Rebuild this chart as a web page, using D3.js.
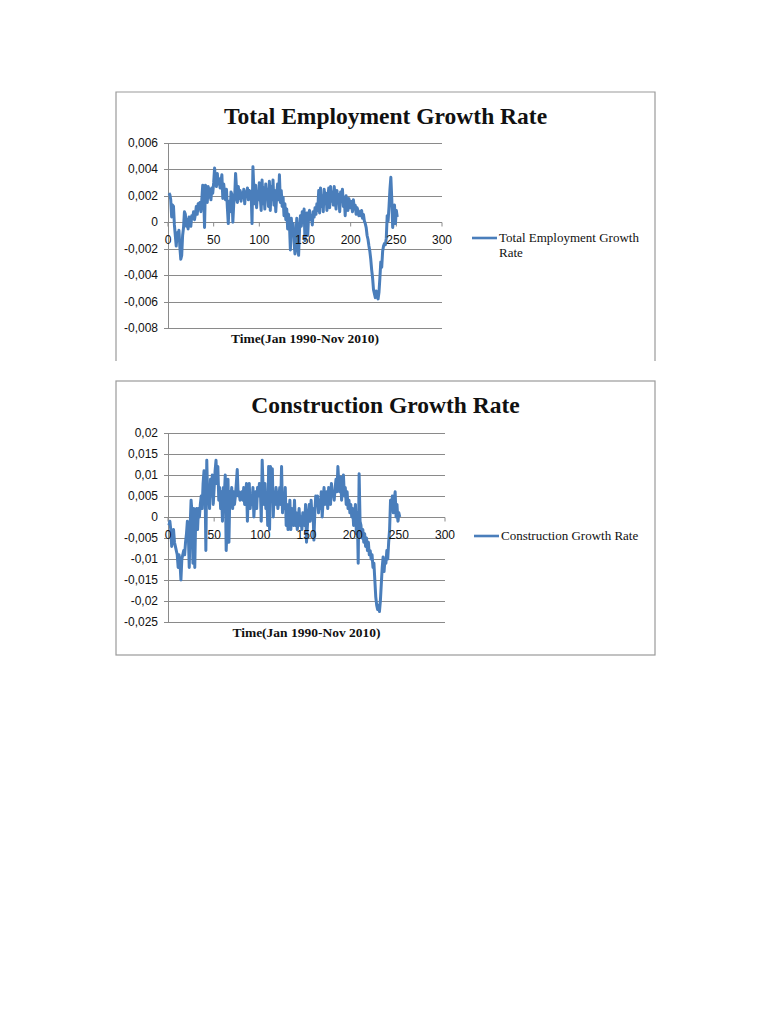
<!DOCTYPE html>
<html>
<head>
<meta charset="utf-8">
<script src="https://cdn.jsdelivr.net/npm/d3@7"></script>
<style>
  body { margin: 0; background: #fff; }
</style>
</head>
<body>
<div id="chart"></div>
<script>
// monthly growth rates, Jan 1990 - Nov 2010
const employment = [
  0.0022, 0.0021, 0.0017, 0.0004, 0.0013, 0.0012, -0.0002, -0.0010, -0.0018, -0.0008,
  -0.0013, -0.0006, -0.0019, -0.0028, -0.0025, -0.0010, -0.0004, 0.0008, 0.0006, -0.0003,
  0.0002, -0.0005, 0.0004, 0.0001, -0.0003, 0.0005, 0.0003, 0.0008, 0.0002, 0.0006,
  0.0012, 0.0006, 0.0014, 0.0010, 0.0015, 0.0008, 0.0017, 0.0028, 0.0022, -0.0004,
  0.0028, 0.0024, 0.0015, 0.0027, 0.0019, 0.0025, 0.0017, 0.0026, 0.0022, 0.0030,
  0.0041, 0.0032, 0.0027, 0.0037, 0.0029, 0.0033, 0.0026, 0.0031, 0.0036, 0.0018,
  0.0029, 0.0022, 0.0017, 0.0025, 0.0011, -0.0001, 0.0016, 0.0008, 0.0023, 0.0021,
  0.0000, 0.0014, 0.0019, 0.0037, 0.0026, 0.0015, 0.0027, 0.0018, 0.0024, 0.0016,
  0.0022, 0.0019, 0.0025, 0.0014, 0.0023, 0.0021, 0.0026, 0.0017, 0.0024, 0.0020,
  0.0023, -0.0001, 0.0042, 0.0025, 0.0014, 0.0028, 0.0011, 0.0022, 0.0017, 0.0030,
  0.0019, 0.0009, 0.0032, 0.0014, 0.0026, 0.0010, 0.0029, 0.0018, 0.0025, 0.0012,
  0.0031, 0.0009, 0.0027, 0.0017, 0.0032, 0.0013, 0.0024, 0.0008, 0.0020, 0.0029,
  0.0017, 0.0036, 0.0015, 0.0024, 0.0012, 0.0019, 0.0005, 0.0014, 0.0002, 0.0010,
  -0.0005, 0.0006, -0.0002, -0.0021, 0.0003, -0.0008, -0.0001, -0.0015, -0.0024, -0.0012,
  0.0003, -0.0020, -0.0025, -0.0006, 0.0005, -0.0003, 0.0008, 0.0001, 0.0010, -0.0014,
  0.0004, 0.0007, -0.0010, 0.0006, 0.0009, 0.0002, 0.0005, -0.0002, 0.0008, 0.0004,
  0.0011, 0.0006, 0.0014, 0.0009, 0.0024, 0.0007, 0.0026, 0.0012, 0.0020, 0.0008,
  0.0025, 0.0014, 0.0022, 0.0009, 0.0018, 0.0026, 0.0011, 0.0027, 0.0016, 0.0023,
  0.0013, 0.0027, 0.0019, 0.0010, 0.0024, 0.0015, 0.0021, 0.0008, 0.0023, 0.0017,
  0.0025, 0.0012, 0.0019, 0.0005, 0.0020, 0.0014, 0.0009, 0.0018, 0.0011, 0.0016,
  0.0014, 0.0008, 0.0017, 0.0010, 0.0013, 0.0006, 0.0011, 0.0009, 0.0005, 0.0008,
  0.0005, 0.0009, 0.0003, 0.0006, 0.0001, -0.0001, -0.0004, -0.0010, -0.0013, -0.0018,
  -0.0022, -0.0028, -0.0036, -0.0042, -0.0051, -0.0054, -0.0057, -0.0052, -0.0056, -0.0058,
  -0.0053, -0.0042, -0.0030, -0.0034, -0.0022, -0.0018, -0.0016, -0.0017, -0.0012, 0.0005,
  0.0001, 0.0012, 0.0025, 0.0034, 0.0018, -0.0004, 0.0003, 0.0013, -0.0001, 0.0009,
  0.0004
]

const construction = [
  -0.002, -0.001, -0.003, -0.007, -0.005, -0.003, -0.006, -0.007, -0.008, -0.009,
  -0.012, -0.009, -0.011, -0.015, -0.010, -0.009, -0.008, -0.009, -0.006, -0.004,
  -0.001, -0.004, -0.012, -0.002, 0.004, 0.001, -0.011, 0.002, -0.012, 0.000,
  0.002, -0.003, 0.002, 0.000, 0.003, 0.005, 0.002, 0.008, 0.011, 0.010,
  -0.008, 0.0135, 0.004, 0.006, 0.002, 0.009, 0.005, 0.010, 0.003, 0.007,
  0.011, 0.0135, 0.008, 0.012, 0.004, 0.007, 0.002, 0.006, -0.001, 0.007,
  0.005, 0.010, -0.008, -0.002, 0.009, -0.006, 0.006, 0.004, 0.007, 0.002,
  0.006, 0.003, 0.005, 0.008, 0.0113, 0.005, 0.006, 0.004, 0.005, 0.006,
  0.004, 0.007, 0.003, 0.005, 0.008, -0.001, 0.006, 0.008, 0.002, 0.005,
  0.003, 0.007, 0.000, 0.004, 0.006, 0.002, 0.007, 0.005, 0.008, 0.007,
  -0.001, 0.0135, 0.007, 0.003, 0.008, 0.002, 0.005, -0.002, 0.012, -0.003,
  0.012, 0.004, 0.0115, 0.000, 0.006, 0.003, 0.007, 0.005, 0.002, 0.004,
  0.007, 0.003, 0.012, 0.001, 0.005, 0.002, 0.007, -0.002, 0.003, -0.003,
  0.001, 0.004, -0.003, 0.002, 0.000, -0.002, 0.004, -0.002, 0.001, -0.003,
  -0.001, 0.002, -0.002, 0.000, -0.003, 0.001, -0.001, -0.002, 0.003, -0.006,
  -0.002, 0.001, 0.003, -0.001, 0.004, 0.000, 0.002, -0.0055, 0.001, 0.005,
  0.003, 0.005, 0.001, 0.004, 0.002, 0.006, 0.000, 0.004, 0.007, 0.003,
  0.005, 0.006, 0.002, 0.007, 0.004, 0.003, 0.008, 0.005, 0.006, 0.004,
  0.007, 0.009, 0.006, 0.012, 0.008, 0.006, 0.0095, 0.004, 0.008, 0.010,
  0.005, 0.007, 0.003, 0.006, 0.002, 0.004, 0.001, 0.003, 0.000, 0.002,
  -0.002, 0.000, 0.003, -0.004, 0.001, -0.011, 0.0103, -0.001, -0.002, -0.005,
  -0.003, -0.006, -0.004, -0.007, -0.005, -0.008, -0.006, -0.009, -0.008, -0.010,
  -0.009, -0.012, -0.011, -0.015, -0.019, -0.021, -0.022, -0.021, -0.0225, -0.020,
  -0.016, -0.012, -0.0095, -0.013, -0.010, -0.011, -0.008, -0.010, -0.006, -0.003,
  0.004, 0.002, 0.005, 0.001, 0.004, 0.006, 0.000, 0.003, -0.001, 0.001,
  0.000
]

const xTicks = [0, 50, 100, 150, 200, 250, 300]
const employmentTicks = [-0.008, -0.006, -0.004, -0.002, 0, 0.002, 0.004, 0.006]
const constructionTicks = [-0.025, -0.02, -0.015, -0.01, -0.005, 0, 0.005, 0.01, 0.015, 0.02]

const locale = d3.formatLocale({
  decimal: ',',
  thousands: '.',
  grouping: [3],
  currency: ['', ''],
  minus: '-'
})
const fmt = locale.format('~g')

const lineColor = '#4a7ebb'
const gridColor = '#8a8a8a'

const svg = d3
  .select('#chart')
  .append('svg')
  .attr('width', 768)
  .attr('height', 1024)

svg
  .append('rect')
  .attr('width', 768)
  .attr('height', 1024)
  .attr('fill', '#fff')

function drawChart(opts) {
  const g = svg.append('g')

  // outer frame (top chart is cut off at the bottom)
  const b = opts.box
  if (opts.openBottom) {
    g.append('path')
      .attr('d', `M${b.x0},${b.y1}V${b.y0}H${b.x1}V${b.y1}`)
      .attr('fill', 'none')
      .attr('stroke', '#9a9a9a')
      .attr('stroke-width', 1.2)
  } else {
    g.append('rect')
      .attr('x', b.x0)
      .attr('y', b.y0)
      .attr('width', b.x1 - b.x0)
      .attr('height', b.y1 - b.y0)
      .attr('fill', 'none')
      .attr('stroke', '#9a9a9a')
      .attr('stroke-width', 1.2)
  }

  const xScale = d3.scaleLinear().domain([0, 300]).range([opts.left, opts.right])
  const yScale = d3
    .scaleLinear()
    .domain(d3.extent(opts.yTicks))
    .range([opts.bottom, opts.top])

  // horizontal gridlines
  g.selectAll('.grid')
    .data(opts.yTicks)
    .enter()
    .append('line')
    .attr('x1', opts.left)
    .attr('x2', opts.right)
    .attr('y1', d => Math.round(yScale(d)) + 0.5)
    .attr('y2', d => Math.round(yScale(d)) + 0.5)
    .attr('stroke', gridColor)
    .attr('stroke-width', 1)

  // y axis line + ticks
  g.append('line')
    .attr('x1', opts.left + 0.5)
    .attr('x2', opts.left + 0.5)
    .attr('y1', opts.top)
    .attr('y2', opts.bottom)
    .attr('stroke', gridColor)

  g.selectAll('.ytick')
    .data(opts.yTicks)
    .enter()
    .append('line')
    .attr('x1', opts.left - 4)
    .attr('x2', opts.left)
    .attr('y1', d => Math.round(yScale(d)) + 0.5)
    .attr('y2', d => Math.round(yScale(d)) + 0.5)
    .attr('stroke', gridColor)

  g.selectAll('.ylabel')
    .data(opts.yTicks)
    .enter()
    .append('text')
    .text(d => fmt(d))
    .attr('x', opts.left - 10)
    .attr('y', d => yScale(d) + 4)
    .attr('text-anchor', 'end')
    .attr('font-family', 'Liberation Sans, Arial, sans-serif')
    .attr('font-size', 12)
    .attr('fill', '#111')

  // x axis sits on zero
  const y0 = Math.round(yScale(0)) + 0.5
  g.selectAll('.xtick')
    .data(xTicks)
    .enter()
    .append('line')
    .attr('x1', d => xScale(d))
    .attr('x2', d => xScale(d))
    .attr('y1', y0)
    .attr('y2', y0 + 4)
    .attr('stroke', gridColor)

  // series line
  const line = d3
    .line()
    .x((d, i) => xScale(i + 1))
    .y(d => yScale(d))

  g.append('path')
    .datum(opts.values)
    .attr('d', line)
    .attr('fill', 'none')
    .attr('stroke', lineColor)
    .attr('stroke-width', 3)
    .attr('stroke-linejoin', 'round')

  g.selectAll('.xlabel')
    .data(xTicks)
    .enter()
    .append('text')
    .text(d => d)
    .attr('x', d => xScale(d))
    .attr('y', y0 + 21)
    .attr('text-anchor', 'middle')
    .attr('font-family', 'Liberation Sans, Arial, sans-serif')
    .attr('font-size', 12)
    .attr('fill', '#111')

  // title
  g.append('text')
    .text(opts.title)
    .attr('x', (b.x0 + b.x1) / 2)
    .attr('y', opts.titleY)
    .attr('text-anchor', 'middle')
    .attr('font-family', 'Liberation Serif, DejaVu Serif, serif')
    .attr('font-weight', 'bold')
    .attr('font-size', 23.5)
    .attr('fill', '#111')

  // x axis title
  g.append('text')
    .text('Time(Jan 1990-Nov 2010)')
    .attr('x', (opts.left + opts.right) / 2)
    .attr('y', opts.bottom + 15)
    .attr('text-anchor', 'middle')
    .attr('font-family', 'Liberation Serif, DejaVu Serif, serif')
    .attr('font-weight', 'bold')
    .attr('font-size', 13.5)
    .attr('fill', '#111')

  // legend
  const lg = g.append('g').attr('transform', `translate(${opts.legend[0]},${opts.legend[1]})`)
  lg.append('line')
    .attr('x1', 0)
    .attr('x2', 25)
    .attr('stroke', lineColor)
    .attr('stroke-width', 2.6)
  lg.selectAll('text')
    .data(opts.legendLines)
    .enter()
    .append('text')
    .text(d => d)
    .attr('x', 27)
    .attr('y', (d, i) => 4 + i * 15)
    .attr('font-family', 'Liberation Serif, DejaVu Serif, serif')
    .attr('font-size', 13)
    .attr('fill', '#111')
}

drawChart({
  box: { x0: 116, y0: 92, x1: 655, y1: 361 },
  openBottom: true,
  left: 168,
  right: 442,
  top: 143,
  bottom: 328,
  yTicks: employmentTicks,
  values: employment,
  title: 'Total Employment Growth Rate',
  titleY: 124,
  legend: [472, 238],
  legendLines: ['Total Employment Growth', 'Rate']
})

drawChart({
  box: { x0: 116, y0: 381, x1: 655, y1: 655 },
  openBottom: false,
  left: 168,
  right: 445,
  top: 433,
  bottom: 622,
  yTicks: constructionTicks,
  values: construction,
  title: 'Construction Growth Rate',
  titleY: 413,
  legend: [474, 536],
  legendLines: ['Construction Growth Rate']
})
</script>
</body>
</html>
